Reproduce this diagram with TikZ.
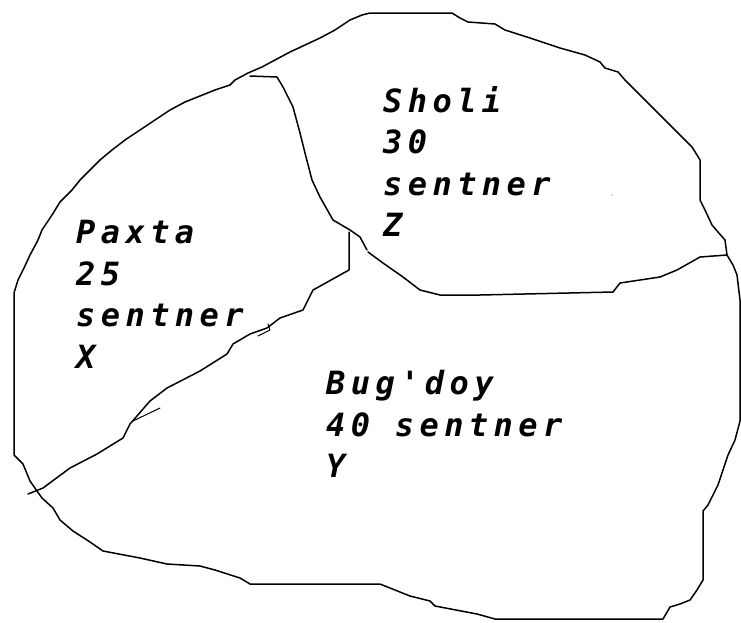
\documentclass[tikz,border=0pt]{standalone}
\usepackage{fontspec}
\newfontfamily\lblfont{DejaVu Sans Mono Bold Oblique}[LetterSpace=17]
\tikzset{
  edge/.style={draw=black, line width=1.5pt, line join=round, line cap=round},
  lbl/.style={anchor=north west, inner sep=0pt, align=left, text=black,
    font=\lblfont\fontsize{32}{41.5}\selectfont}
}
\begin{document}
\begin{tikzpicture}[x=1pt,y=-1pt]
\useasboundingbox (0,0) rectangle (741,622);
% outer boundary
\draw[edge] (14,455) -- (14,293) -- (18,280) -- (24,268) -- (30,255) -- (38,240) -- (42,230)
  -- (52,215) -- (60,202) -- (72,190) -- (80,180) -- (92,168) -- (100,160) -- (112,150)
  -- (125,140) -- (140,130) -- (155,120) -- (170,110) -- (185,102) -- (200,96) -- (215,90)
  -- (230,85) -- (235,80) -- (248,73) -- (262,67) -- (275,60) -- (290,52) -- (305,45)
  -- (320,38) -- (335,30) -- (350,20) -- (362,15) -- (370,13) -- (452,13) -- (460,18)
  -- (468,22) -- (495,24) -- (505,30) -- (530,38) -- (560,48) -- (585,55) -- (600,62)
  -- (605,68) -- (618,72) -- (625,80) -- (635,90) -- (650,105) -- (665,120) -- (680,135)
  -- (692,147) -- (697,155) -- (700,160) -- (700,200) -- (705,210) -- (712,225) -- (718,232)
  -- (725,240) -- (727,255) -- (733,265) -- (737,275) -- (740,300) -- (740,421)
  -- (735,440) -- (728,455) -- (723,470) -- (718,485) -- (713,495) -- (708,505) -- (703,511)
  -- (703,580) -- (697,590) -- (690,600) -- (680,604) -- (670,607) -- (663,619) -- (495,619)
  -- (477,614) -- (435,606) -- (430,601) -- (410,596) -- (380,584) -- (250,584) -- (240,578)
  -- (215,570) -- (200,566) -- (167,564) -- (140,558) -- (103,551) -- (90,542) -- (73,531)
  -- (60,520) -- (53,508) -- (42,498) -- (37,491) -- (30,481) -- (23,464) -- cycle;
% Paxta / Sholi divider
\draw[edge] (250,76) -- (277,77) -- (283,87) -- (293,107) -- (300,133) -- (305,153)
  -- (312,180) -- (320,197) -- (333,220) -- (350,230) -- (360,237) -- (367,250);
% Sholi lower boundary
\draw[edge] (368,252) -- (383,263) -- (403,277) -- (420,290) -- (440,295) -- (480,295)
  -- (613,292) -- (620,283) -- (660,277) -- (677,270) -- (700,257) -- (727,255);
% Paxta / Bug'doy divider
\draw[edge] (349,232) -- (349,270) -- (313,290) -- (303,310) -- (280,318) -- (267,328)
  -- (250,334) -- (233,344) -- (227,354) -- (200,371) -- (167,388) -- (150,401)
  -- (130,424) -- (123,438) -- (97,454) -- (70,468) -- (43,488) -- (28,494);
\draw[edge, line width=1pt] (133,421) -- (160,408);
\draw[edge, line width=1pt] (258,336) -- (270,330) -- (268,324);
\fill[blue!40] (612,195) circle (0.8pt);
% labels
\node[lbl] (sholi) at (383,86) {Sholi\\30\\sentner\\Z};
\node[lbl] (paxta) at (76,220) {Paxta\\25\\sentner\\X};
\node[lbl] (bugdoy) at (326,370) {Bug'doy\\40 sentner\\Y};
\end{tikzpicture}
\end{document}
